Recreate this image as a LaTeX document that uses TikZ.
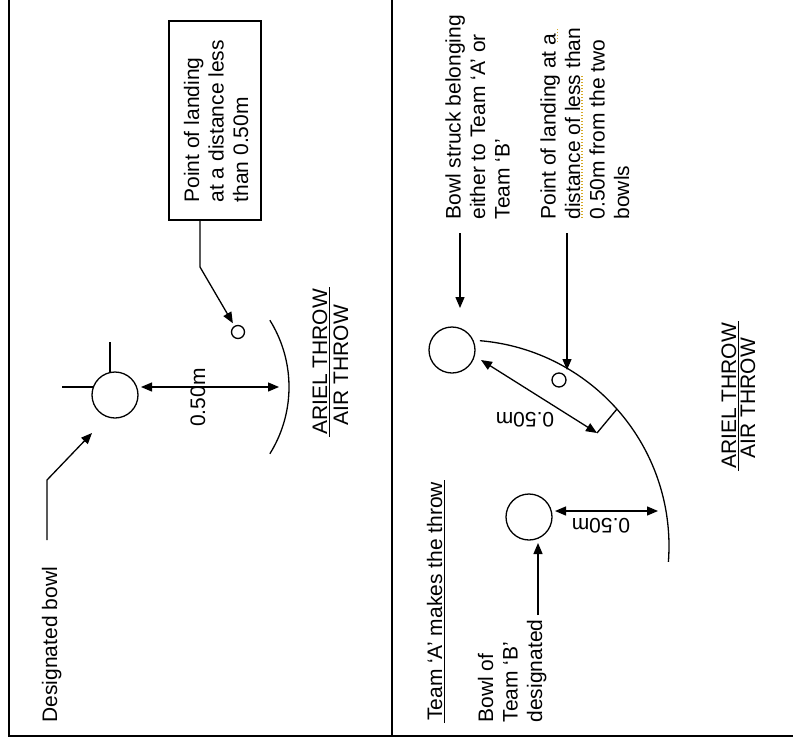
\documentclass[tikz,border=0pt]{standalone}
\usepackage{fontspec}
\setmainfont{Liberation Sans}
\usetikzlibrary{arrows.meta,calc}
\definecolor{spellmark}{RGB}{214,170,40}
\begin{document}
\begin{tikzpicture}[x=1pt,y=-1pt,
  line width=1.3pt,
  txt/.style={font=\fontsize{21}{24.5}\selectfont, inner sep=0pt, align=left},
  vtxt/.style={txt, rotate=90, anchor=base west},
  bowl/.style={draw, circle, minimum size=46pt, inner sep=0pt},
  jack/.style={draw, circle, minimum size=13pt, inner sep=0pt},
  arr/.style={-{Triangle[length=11pt,width=9pt]}},
  darr/.style={{Triangle[length=11pt,width=9pt]}-{Triangle[length=11pt,width=9pt]}},
  frame/.style={line width=1.6pt},
  spellline/.style={spellmark, line width=1.2pt, dash pattern=on 1.5pt off 1.5pt}
]
\useasboundingbox (0,0) rectangle (793,739);

% frame
\draw[frame] (9,0) -- (9,736) -- (793,736);
\draw[frame] (392,0) -- (392,736);

% ---------- left panel ----------
\node[draw, rotate=90, minimum width=199pt, minimum height=92pt, inner sep=0pt] (box) at (215,120.5) {};
\node[vtxt] (boxtxt) at (248,203) {Point of landing\\at a distance less\\than 0.50m};
\node[jack] (s1) at (238,332) {};
\coordinate (k1) at (200,267);
\draw[arr, shorten >=3pt] (box.west -| k1) -- (k1) -- (s1);

\node[bowl] (b1) at (115,395) {};
\draw (b1.center) ++(-53,-8) -- ++(31,0);
\draw (b1.center) ++(-5,-53) -- ++(0,30.5);

\coordinate (d1a) at (141,387);
\coordinate (d1b) at (279,387);
\draw[darr] (d1a) -- (d1b);
\node[txt, rotate=90, anchor=base] (m1) at (205,397.5) {0.50m};
\draw plot[domain=-32:32, samples=60] ({163+126*cos(\x)},{387+126*sin(\x)});

\node[vtxt] (dbl) at (57,723) {Designated bowl};
\coordinate (c1) at (47,540);
\coordinate (c2) at (47,480);
\coordinate (c3) at (92,433);
\draw[arr] (c1) -- (c2) -- (c3);

\node[txt, rotate=90, anchor=base, inner sep=1.5pt] (ar1) at (327,362) {ARIEL THROW};
\draw (ar1.south west) -- (ar1.south east);
\node[txt, rotate=90, anchor=base] (ai1) at (348,365) {AIR THROW};

% ---------- right panel ----------
\node[bowl] (b2) at (452,350) {};
\node[vtxt] (t2) at (509.5,220) {Bowl struck belonging\\either to Team ‘A’ or\\Team ‘B’};
\coordinate (e1) at (460,233);
\coordinate (e2) at (460,308);
\draw[arr] (e1) -- (e2);

\node[vtxt] (t3) at (629,220) {Point of landing at a\\distance of less than\\0.50m from the two\\bowls};
\draw[spellline] (557.5,42) -- (557.5,28);
\draw[spellline] (582,218) -- (582,75);
\node[jack, minimum size=14pt] (s2) at (559,380) {};
\coordinate (f1) at (567,233);
\coordinate (f2) at (567,370);
\draw[arr] (f1) -- (f2);

\draw plot[domain=-85.3:4.4, samples=100] ({463+206*cos(\x)},{546+206*sin(\x)});

\coordinate (g1) at (481,360);
\coordinate (g2) at (597,433);
\coordinate (g3) at (617,409);
\draw[darr] (g1) -- (g2);
\draw (g2) -- (g3);
\node[txt, rotate=180] (m2) at (525,420) {0.50m};

\node[bowl] (b3) at (529,517) {};
\coordinate (h1) at (555,511);
\coordinate (h2) at (658,511);
\draw[darr] (h1) -- (h2);
\node[txt, rotate=180] (m3) at (601,526) {0.50m};

\node[vtxt, inner sep=1.5pt] (t4) at (442,723) {Team ‘A’ makes the throw};
\draw (t4.south west) -- (t4.south east);

\node[vtxt] (t5) at (542,723) {Bowl of\\Team ‘B’\\designated};
\coordinate (j1) at (538,615);
\coordinate (j2) at (538,543);
\draw[arr] (j1) -- (j2);

\node[txt, rotate=90, anchor=base, inner sep=1.5pt] (ar2) at (736,396) {ARIEL THROW};
\draw (ar2.south west) -- (ar2.south east);
\node[txt, rotate=90, anchor=base] (ai2) at (755,398) {AIR THROW};
\end{tikzpicture}
\end{document}
